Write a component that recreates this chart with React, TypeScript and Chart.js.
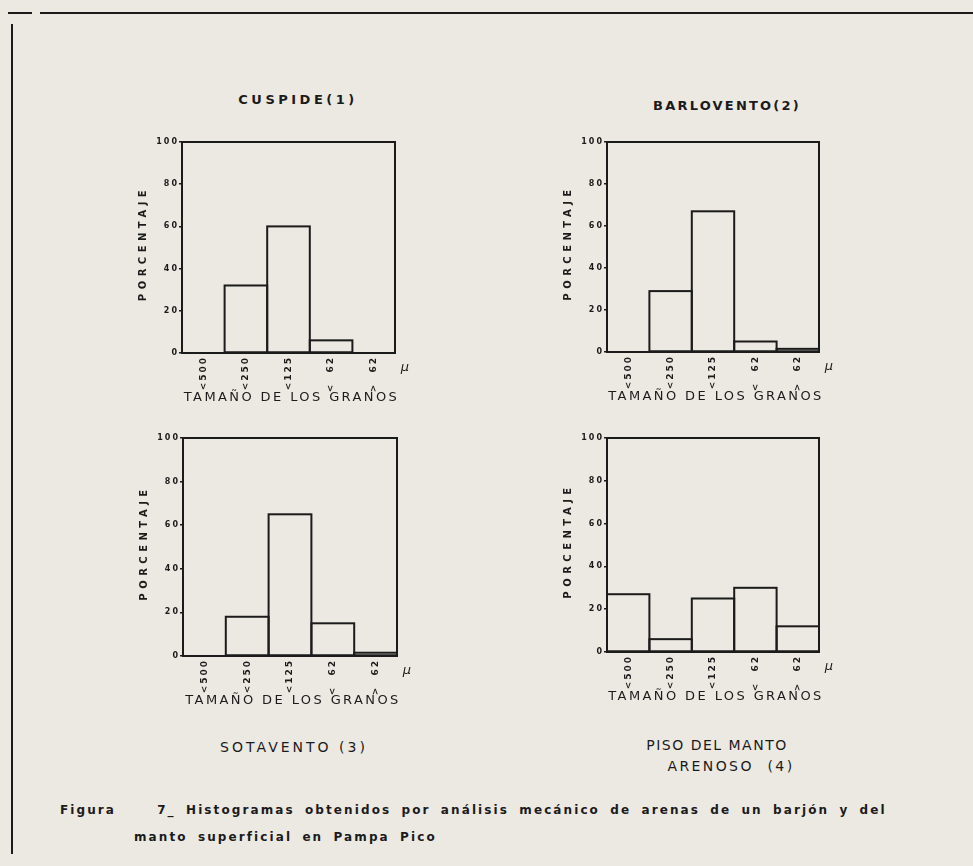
import React, { useEffect, useRef } from "react";
import { Chart, registerables } from "chart.js";

Chart.register(...registerables);

// ---- data ----
const sizeClasses = ["<500", "<250", "<125", "<  62", ">  62"];
const cuspideValues = [0, 32, 60, 6, 0];
const barloventoValues = [0, 29, 67, 5, 1.5];
const sotaventoValues = [0, 18, 65, 15, 1.5];
const pisoMantoValues = [27, 6, 25, 30, 12];
const yTickStep = 20;
const yMax = 100;
const yTitleText = "PORCENTAJE";
const xTitleText = "TAMAÑO DE LOS GRANOS";
const unitText = "μ";

const INK = "#1b1b1b";
const PAPER = "#ece9e3";
const FONT = "'DejaVu Sans', sans-serif";

const L = 60;
const T = 10;
const R = 30;
const B = 62;

const histoPlugin = {
  id: "histo",
  beforeDraw(chart: any) {
    chart.ctx.letterSpacing = "2px";
  },
  afterDatasetsDraw(chart: any) {
    const ctx = chart.ctx;
    const meta = chart.getDatasetMeta(0);
    const data = chart.data.datasets[0].data;
    ctx.save();
    ctx.strokeStyle = INK;
    ctx.lineWidth = 2;
    meta.data.forEach((bar: any, i: number) => {
      if (!data[i]) return;
      const p = bar.getProps(["x", "y", "base", "width"], true);
      ctx.strokeRect(p.x - p.width / 2, p.y, p.width, p.base - p.y);
    });
    const a = chart.chartArea;
    ctx.strokeRect(a.left, a.top, a.right - a.left, a.bottom - a.top);
    ctx.restore();
  },
  afterDraw(chart: any) {
    const ctx = chart.ctx;
    const a = chart.chartArea;
    ctx.save();
    ctx.fillStyle = INK;
    // y title
    ctx.letterSpacing = "4.5px";
    ctx.font = `bold 10px ${FONT}`;
    ctx.textAlign = "center";
    ctx.textBaseline = "middle";
    ctx.translate(a.left - 39, (a.top + a.bottom) / 2 - 2);
    ctx.rotate(-Math.PI / 2);
    ctx.fillText(yTitleText, 2, 0);
    ctx.setTransform(1, 0, 0, 1, 0, 0);
    // x title
    ctx.letterSpacing = "2.4px";
    ctx.font = `13px ${FONT}`;
    ctx.fillText(xTitleText, (a.left + a.right) / 2 + 3, a.bottom + 45);
    // unit
    ctx.letterSpacing = "0px";
    ctx.font = `italic 13px ${FONT}`;
    ctx.fillText(unitText, a.right + 10, a.bottom + 15);
    ctx.restore();
  },
};

type HistoProps = { values: number[]; left: number; top: number; w: number; h: number };

function Histogram({ values, left, top, w, h }: HistoProps) {
  const ref = useRef<HTMLCanvasElement | null>(null);
  const cw = L + w + R;
  const ch = T + h + B;
  useEffect(() => {
    const chart = new Chart(ref.current as HTMLCanvasElement, {
      type: "bar",
      data: {
        labels: sizeClasses,
        datasets: [
          {
            data: values,
            backgroundColor: "rgba(0,0,0,0)",
            borderWidth: 0,
            categoryPercentage: 1,
            barPercentage: 1,
          },
        ],
      },
      options: {
        animation: false,
        responsive: false,
        maintainAspectRatio: false,
        events: [],
        layout: { padding: { top: T, right: R, left: 0, bottom: 0 } },
        plugins: { legend: { display: false }, tooltip: { enabled: false }, title: { display: false } },
        scales: {
          x: {
            grid: { display: false },
            border: { display: false },
            ticks: {
              minRotation: 90,
              maxRotation: 90,
              autoSkip: false,
              padding: -5,
              color: INK,
              font: { family: FONT, size: 9, weight: "bold" },
            },
            afterFit: (s: any) => {
              s.height = B;
            },
          },
          y: {
            min: 0,
            max: yMax,
            ticks: {
              stepSize: yTickStep,
              padding: 0,
              color: INK,
              font: { family: FONT, size: 8, weight: "bold" },
            },
            grid: { drawOnChartArea: false, drawTicks: true, tickLength: 3, color: INK, lineWidth: 1.5 },
            border: { display: false },
            afterFit: (s: any) => {
              s.width = L;
            },
          },
        },
      } as any,
      plugins: [histoPlugin as any],
    });
    return () => chart.destroy();
  }, []);
  return (
    <canvas
      ref={ref}
      width={cw}
      height={ch}
      style={{ position: "absolute", left: left - L, top: top - T, width: cw, height: ch }}
    />
  );
}

function Label({ text, cx, cy, size, bold, spacing }: { text: string; cx: number; cy: number; size: number; bold?: boolean; spacing: number }) {
  return (
    <div
      style={{
        position: "absolute",
        left: cx - 150,
        top: cy - size * 0.6,
        width: 300,
        textAlign: "center",
        fontFamily: FONT,
        fontSize: size,
        lineHeight: `${size * 1.2}px`,
        fontWeight: bold ? "bold" : "normal",
        letterSpacing: spacing,
        whiteSpace: "pre",
        color: INK,
      }}
    >
      {text}
    </div>
  );
}

const captionStyle: React.CSSProperties = {
  position: "absolute",
  fontFamily: FONT,
  fontSize: 12,
  fontWeight: "bold",
  letterSpacing: 2.1,
  wordSpacing: 4,
  whiteSpace: "pre",
  color: INK,
  lineHeight: "16px",
};

export default function App() {
  return (
    <div
      style={{
        position: "absolute",
        left: 0,
        top: 0,
        width: 973,
        height: 866,
        background: PAPER,
        overflow: "hidden",
      }}
    >
      {/* page frame lines */}
      <div style={{ position: "absolute", left: 8, top: 12, width: 24, height: 2, background: INK }} />
      <div style={{ position: "absolute", left: 40, top: 12, width: 933, height: 2, background: INK }} />
      <div style={{ position: "absolute", left: 11, top: 24, width: 2, height: 830, background: INK }} />

      <Label text="CUSPIDE(1)" cx={298} cy={100} size={13} bold spacing={3.5} />
      <Label text="BARLOVENTO(2)" cx={727} cy={106} size={13} bold spacing={2.2} />
      <Label text="SOTAVENTO (3)" cx={294} cy={747} size={14} spacing={3} />
      <Label text="PISO DEL MANTO" cx={717} cy={745} size={14} spacing={1.5} />
      <Label text="ARENOSO  (4)" cx={731} cy={766} size={14} spacing={2.4} />

      <Histogram values={cuspideValues} left={182} top={142} w={213} h={211} />
      <Histogram values={barloventoValues} left={607} top={142} w={212} h={210} />
      <Histogram values={sotaventoValues} left={183} top={438} w={214} h={218} />
      <Histogram values={pisoMantoValues} left={607} top={438} w={212} h={214} />

      <div style={{ ...captionStyle, left: 60, top: 802 }}>
        {"Figura    7_ Histogramas obtenidos por análisis mecánico de arenas de un barjón y del"}
      </div>
      <div style={{ ...captionStyle, left: 134, top: 829 }}>{"manto superficial en Pampa Pico"}</div>
    </div>
  );
}
